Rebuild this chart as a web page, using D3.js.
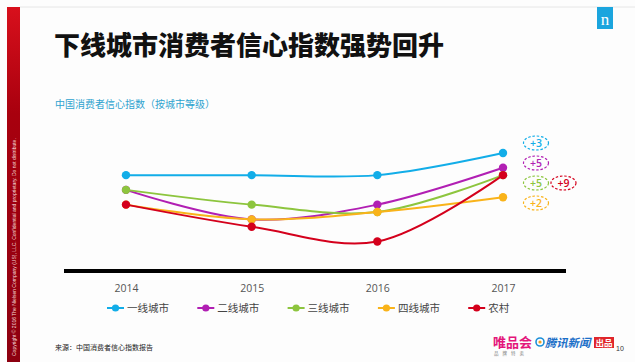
<!DOCTYPE html>
<html>
<head>
<meta charset="utf-8">
<script src="https://cdn.jsdelivr.net/npm/d3@7"></script>
<style>
  html, body { margin: 0; padding: 0; background: #fff; }
  svg { display: block; font-family: "Noto Sans CJK SC", "Noto Sans", sans-serif; }
</style>
</head>
<body>
<svg id="chart" width="635" height="362"></svg>
<script>
// 中国消费者信心指数（按城市等级）
const years = ['2014', '2015', '2016', '2017']
const tier1 = [110, 110, 110, 113]
const tier2 = [108, 104, 106, 111]
const tier3 = [108, 106, 105, 110]
const tier4 = [106, 104, 105, 107]
const rural = [106, 103, 101, 110]

const seriesNames = ['一线城市', '二线城市', '三线城市', '四线城市', '农村']
const seriesColors = ['#12ade8', '#b11fb3', '#8dc53e', '#f9b31a', '#d4001c']
const seriesValues = [tier1, tier2, tier3, tier4, rural]

const svg = d3.select('#chart')
const W = 635, H = 362

// page background + top rule
svg.append('rect').attr('width', W).attr('height', H).attr('fill', '#fdfdfd')
svg.append('line')
  .attr('x1', 20).attr('x2', W).attr('y1', 7).attr('y2', 7)
  .attr('stroke', '#e6e6e6').attr('stroke-width', 1)

// left red strip
const defs = svg.append('defs')
const grad = defs.append('linearGradient').attr('id', 'redStrip')
  .attr('x1', 0).attr('y1', 0).attr('x2', 0).attr('y2', 1)
grad.append('stop').attr('offset', '0%').attr('stop-color', '#d8101c')
grad.append('stop').attr('offset', '30%').attr('stop-color', '#a8000e')
grad.append('stop').attr('offset', '100%').attr('stop-color', '#8c0010')
svg.append('rect')
  .attr('x', 7).attr('y', 7).attr('width', 13).attr('height', H - 7)
  .attr('fill', 'url(#redStrip)')
svg.append('text')
  .attr('transform', 'translate(15.5,356) rotate(-90)')
  .attr('font-family', 'Liberation Sans, Arial, sans-serif')
  .attr('font-size', '5px')
  .attr('fill', '#f6dada')
  .text('Copyright © 2016 The Nielsen Company (US), LLC. Confidential and proprietary. Do not distribute.')

// nielsen logo
svg.append('rect')
  .attr('x', 597).attr('y', 7).attr('width', 16).attr('height', 22)
  .attr('fill', '#1ba5de')
svg.append('text')
  .attr('x', 605).attr('y', 25)
  .attr('text-anchor', 'middle')
  .attr('font-family', 'Liberation Serif, DejaVu Serif, serif')
  .attr('font-size', '17px')
  .attr('fill', '#fff')
  .text('n')

// title
svg.append('text')
  .attr('x', 54).attr('y', 55)
  .attr('font-size', '26px')
  .attr('font-weight', '900')
  .attr('fill', '#111')
  .text('下线城市消费者信心指数强势回升')

svg.append('text')
  .attr('x', 55).attr('y', 108)
  .attr('font-size', '10px')
  .attr('fill', '#2ea3cf')
  .text('中国消费者信心指数（按城市等级）')

// scales
const x = d3.scalePoint()
  .domain(years)
  .range([126, 503])

const y = d3.scaleLinear()
  .domain([97, 113])
  .range([271, 153])

// axis
const xAxis = svg.append('g')
  .attr('transform', 'translate(0,271)')
  .call(d3.axisBottom(x).tickSize(0).tickPadding(14))
xAxis.select('.domain').remove()
xAxis.selectAll('text')
  .attr('font-family', 'Open Sans, Noto Sans, sans-serif')
  .attr('font-size', '10.5px')
  .attr('fill', '#555')
svg.append('line')
  .attr('x1', 64).attr('x2', 566)
  .attr('y1', 271).attr('y2', 271)
  .attr('stroke', '#000').attr('stroke-width', 4)

// lines
const line = d3.line()
  .x((d, i) => x(years[i]))
  .y(d => y(d))
  .curve(d3.curveCatmullRom.alpha(0.5))

seriesValues.forEach((vals, si) => {
  const g = svg.append('g')
  g.append('path')
    .attr('d', line(vals))
    .attr('fill', 'none')
    .attr('stroke', seriesColors[si])
    .attr('stroke-width', 2)
  g.selectAll('circle')
    .data(vals)
    .enter()
    .append('circle')
    .attr('cx', (d, i) => x(years[i]))
    .attr('cy', d => y(d))
    .attr('r', 4.2)
    .attr('fill', seriesColors[si])
})

// 2016 -> 2017 change labels in dashed ellipses
const last = years.length - 1
const changes = seriesValues.map(v => v[last] - v[last - 1])
const labelX = x(years[last]) + 33
changes.forEach((c, si) => {
  // the rural label sits beside the tier-3 one
  const col = si === 4 ? 1 : 0
  const row = si === 4 ? 2 : si
  const cx = labelX + col * 27.5
  const cy = 143 + row * 20
  svg.append('ellipse')
    .attr('cx', cx).attr('cy', cy)
    .attr('rx', 12.5).attr('ry', 7)
    .attr('fill', 'none')
    .attr('stroke', seriesColors[si])
    .attr('stroke-width', 1.2)
    .attr('stroke-dasharray', '2.5,1.8')
  svg.append('text')
    .attr('x', cx).attr('y', cy + 3.8)
    .attr('text-anchor', 'middle')
    .attr('font-family', 'Open Sans, Noto Sans, sans-serif')
    .attr('font-size', '10.5px')
    .attr('font-weight', '600')
    .attr('fill', seriesColors[si])
    .text('+' + c)
})

// legend
const legend = svg.append('g').attr('transform', 'translate(107,308)')
seriesNames.forEach((name, i) => {
  const g = legend.append('g').attr('transform', `translate(${i * 90.3},0)`)
  g.append('line')
    .attr('x1', 0).attr('x2', 17)
    .attr('stroke', seriesColors[i]).attr('stroke-width', 2)
  g.append('circle')
    .attr('cx', 8.5).attr('r', 3.6)
    .attr('fill', seriesColors[i])
  g.append('text')
    .attr('x', 20).attr('y', 4)
    .attr('font-size', '10.5px')
    .attr('fill', '#444')
    .text(name)
})

// source
svg.append('text')
  .attr('x', 55).attr('y', 350)
  .attr('font-size', '7px')
  .attr('fill', '#222')
  .text('来源：中国消费者信心指数报告')

// footer logos
svg.append('text')
  .attr('x', 493).attr('y', 347)
  .attr('font-size', '13px')
  .attr('font-weight', '700')
  .attr('fill', '#e4167a')
  .text('唯品会')
svg.append('text')
  .attr('x', 494).attr('y', 355)
  .attr('font-size', '4.5px')
  .attr('letter-spacing', '4')
  .attr('fill', '#777')
  .text('品牌特卖')
svg.append('circle')
  .attr('cx', 540).attr('cy', 342).attr('r', 4)
  .attr('fill', 'none').attr('stroke', '#1b8fd8').attr('stroke-width', 1.6)
svg.append('circle')
  .attr('cx', 540).attr('cy', 342).attr('r', 1.6)
  .attr('fill', '#f0a020')
svg.append('text')
  .attr('x', 545).attr('y', 347)
  .attr('font-size', '11.3px')
  .attr('font-weight', '700')
  .attr('font-style', 'italic')
  .attr('fill', '#1b6fc8')
  .text('腾讯新闻')
svg.append('rect')
  .attr('x', 594).attr('y', 337).attr('width', 20).attr('height', 11)
  .attr('fill', '#e0262b')
svg.append('text')
  .attr('x', 604).attr('y', 346)
  .attr('text-anchor', 'middle')
  .attr('font-size', '8.5px')
  .attr('font-weight', '700')
  .attr('fill', '#fff')
  .text('出品')
svg.append('text')
  .attr('x', 616).attr('y', 351)
  .attr('font-family', 'Liberation Sans, Arial, sans-serif')
  .attr('font-size', '7px')
  .attr('fill', '#333')
  .text('10')
</script>
</body>
</html>
